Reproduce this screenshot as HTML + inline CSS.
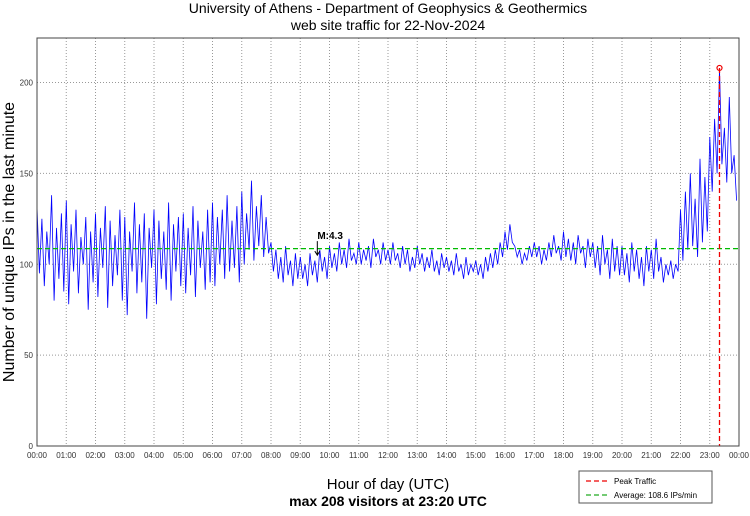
<!DOCTYPE html>
<html><head><meta charset="utf-8"><style>
body{margin:0;background:#fff;width:750px;height:511px;overflow:hidden;font-family:"Liberation Sans",sans-serif}
svg text{font-family:"Liberation Sans",sans-serif}
</style></head><body>
<svg id="chart" width="750" height="511" xmlns="http://www.w3.org/2000/svg">
<text x="388" y="13" font-size="14" text-anchor="middle">University of Athens - Department of Geophysics &amp; Geothermics</text>
<text x="388" y="30" font-size="14" text-anchor="middle">web site traffic for 22-Nov-2024</text>
<g id="grid"></g><g id="ticks"></g>
<g id="series"></g>
<rect x="37" y="38" width="702" height="408" fill="none" stroke="#444" stroke-width="1"/>
<text transform="translate(14,242) rotate(-90)" font-size="16" text-anchor="middle">Number of unique IPs in the last minute</text>
<text x="388" y="489" font-size="15" text-anchor="middle">Hour of day (UTC)</text>
<text x="388" y="506" font-size="14" font-weight="bold" text-anchor="middle">max 208 visitors at 23:20 UTC</text>
<g>
<rect x="579" y="471" width="133" height="32" fill="#fff" stroke="#555"/>
<line x1="586" y1="481" x2="610" y2="481" stroke="#e00" stroke-dasharray="5,3" stroke-width="1.3"/>
<text x="614" y="484" font-size="8">Peak Traffic</text>
<line x1="586" y1="495" x2="610" y2="495" stroke="#2a2" stroke-dasharray="5,3" stroke-width="1.3"/>
<text x="614" y="498" font-size="8">Average: 108.6 IPs/min</text>
</g>
</svg>
<script>
const values=[
132,95,125,88,118,100,138,80,120,92,128,85,
135,78,122,96,130,84,115,100,126,75,118,90,
128,82,120,98,132,76,124,88,116,94,130,80,
126,72,118,96,134,84,122,90,128,70,120,98,
130,78,124,92,118,86,134,80,122,96,126,88,
128,84,120,94,132,82,124,98,118,86,130,90,
134,88,126,100,130,92,138,96,124,98,132,90,
140,100,128,108,146,102,132,110,138,104,126,106,
112,96,108,92,104,90,110,94,102,88,106,92,
104,92,100,88,106,94,102,90,108,96,104,92,
110,98,106,96,112,100,108,98,114,102,106,100,
112,100,108,102,110,98,114,104,108,100,112,102,
108,100,112,102,106,98,110,100,108,96,104,98,
110,100,106,96,104,98,108,96,102,94,106,98,
104,96,102,94,106,96,100,92,104,94,100,96,
102,94,100,92,104,96,106,98,108,100,112,104,
118,108,122,112,110,104,108,100,106,102,110,104,
112,104,110,100,108,102,112,104,116,106,110,102,
118,104,114,102,112,100,116,106,110,98,114,104,
112,98,110,94,116,100,108,92,114,96,110,94,
110,94,106,90,112,96,108,92,104,88,110,96,
108,92,114,96,104,90,100,94,102,92,100,96,
130,102,140,108,150,110,136,104,158,112,148,118,
170,140,180,150,208,155,175,145,192,150,160,135];
const stepMinutes=5;
const average=108.6;
const yTicks=[0,50,100,150,200];
const xTickHours=[0,1,2,3,4,5,6,7,8,9,10,11,12,13,14,15,16,17,18,19,20,21,22,23,24];
const quake={label:"M:4.3",minute:575,value:105};

const L=37,R=739,T=38,B=446,NS="http://www.w3.org/2000/svg";
const x=m=>L+(m/1440)*(R-L);
const y=v=>B-v*(B-82.5)/200;
function mk(tag,attrs,parent){const e=document.createElementNS(NS,tag);for(const k in attrs)e.setAttribute(k,attrs[k]);parent.appendChild(e);return e;}
const grid=document.getElementById('grid'),ticks=document.getElementById('ticks'),ser=document.getElementById('series');
yTicks.forEach(v=>{
  if(v>0){const g=mk('line',{x1:L,x2:R,y1:y(v),y2:y(v),stroke:'#999','stroke-dasharray':'1,2'},grid);
  
  }
  const t=mk('text',{x:L-4,y:y(v)+3,'font-size':8,'text-anchor':'end',fill:'#333'},ticks);t.textContent=v;
  
  
});
xTickHours.forEach(h=>{
  const xx=x(h*60);
  if(h>0&&h<24){const g=mk('line',{x1:xx,x2:xx,y1:T,y2:B,stroke:'#999','stroke-dasharray':'1,2'},grid);
  
  }
  const t=mk('text',{x:xx,y:B+12,'font-size':8,'text-anchor':'middle',fill:'#333'},ticks);t.textContent=String(h%24===0&&h?0:h).padStart(2,'0')+':00';
  
  
});
const pts=values.map((v,i)=>x(i*stepMinutes).toFixed(1)+','+y(v).toFixed(1)).join(' ');
const line=mk('polyline',{points:pts,fill:'none',stroke:'#0000ff','stroke-width':0.8},ser);


const avg=mk('line',{x1:L,x2:R,y1:y(average),y2:y(average),stroke:'#0b0','stroke-dasharray':'5,3','stroke-width':1.3},ser);


let mi=0;values.forEach((v,i)=>{if(v>values[mi])mi=i;});
const pk=mk('line',{x1:x(mi*stepMinutes),x2:x(mi*stepMinutes),y1:y(values[mi]),y2:B,stroke:'#e00','stroke-dasharray':'5,3','stroke-width':1.3},ser);


const pc=mk('circle',{cx:x(mi*stepMinutes),cy:y(values[mi]),r:2.5,fill:'none',stroke:'#e00','stroke-width':1.2},ser);


const qx=x(quake.minute),qy=y(quake.value);
const qa=mk('path',{d:`M${qx},${qy-14} L${qx},${qy} M${qx-2.5},${qy-4} L${qx},${qy} L${qx+2.5},${qy-4}`,stroke:'#000',fill:'none','stroke-width':1},ser);


const qt=mk('text',{x:qx,y:qy-16,'font-size':10,'font-weight':'bold'},ser);qt.textContent=quake.label;


</script>
</body></html>
